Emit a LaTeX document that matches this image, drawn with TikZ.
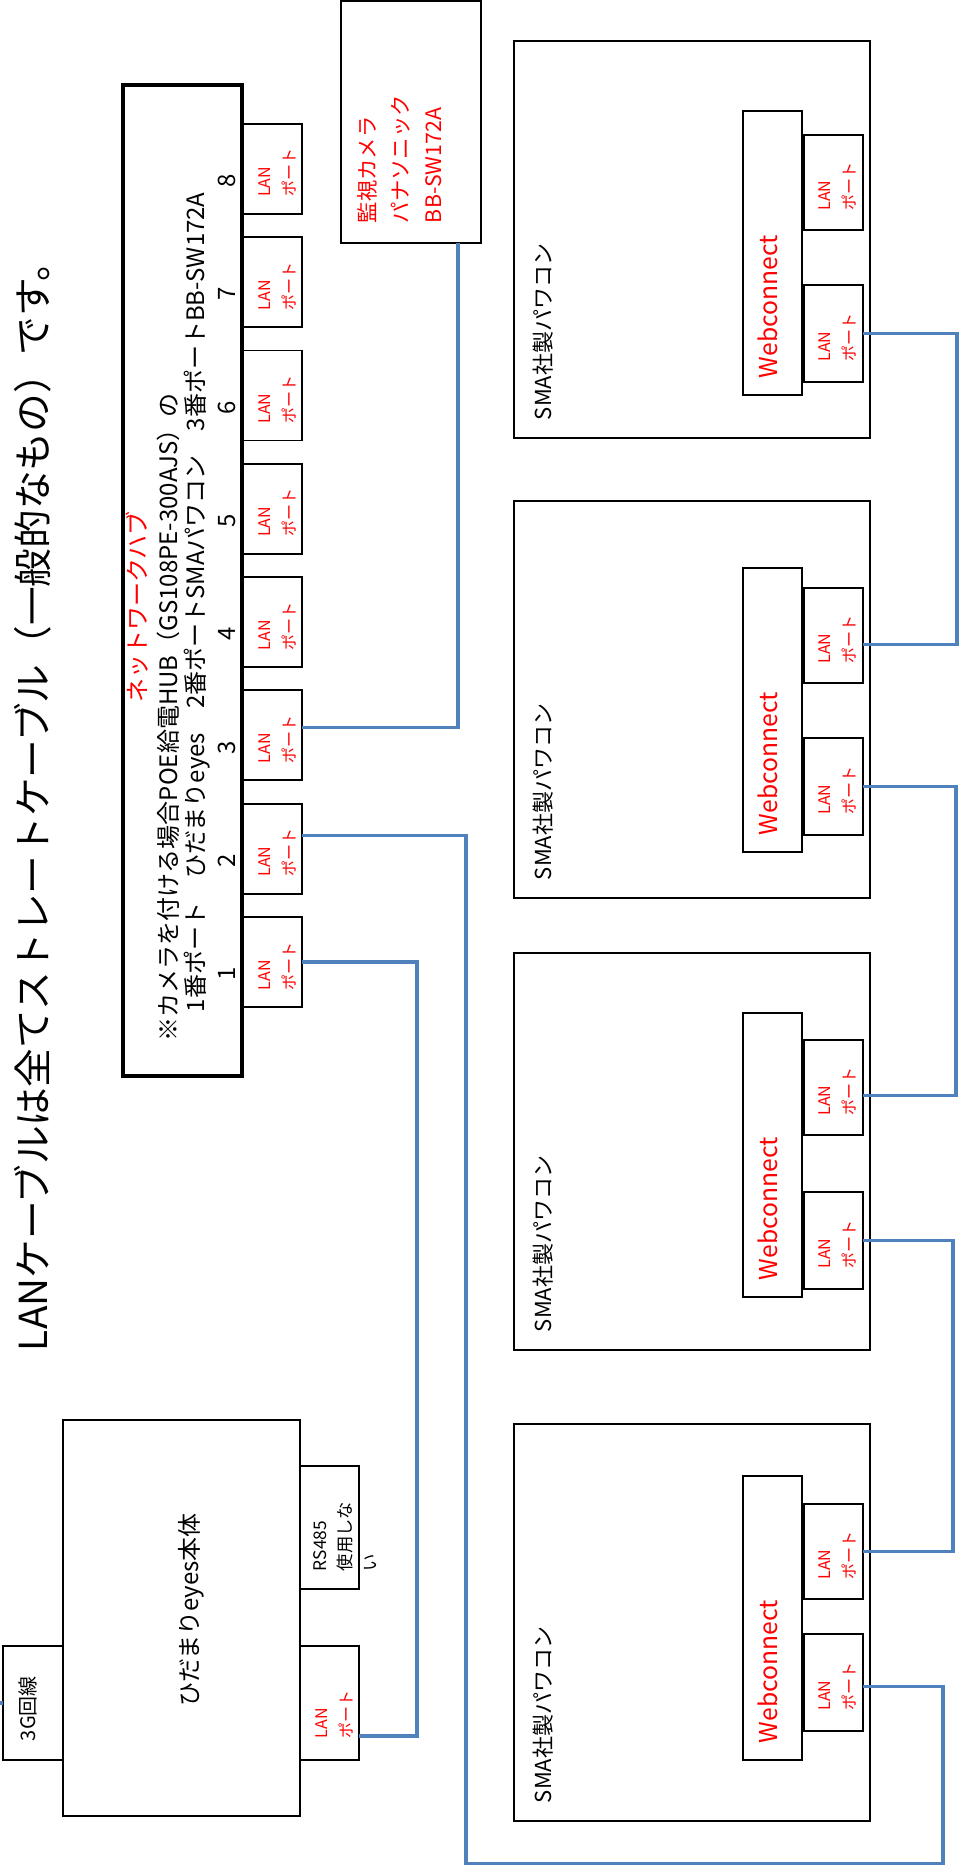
\documentclass[tikz,border=0pt]{standalone}
\usepackage{fontspec}
\setmainfont{Noto Sans CJK JP}
\usetikzlibrary{calc}
\definecolor{cableblue}{RGB}{79,129,189}
\def\u{0.75pt}
\tikzset{panel/.style={draw, line width=1.4pt, inner sep=0pt, outer sep=0pt, anchor=north west},
    hubpanel/.style={panel, line width=2.6pt},
    wh/.style 2 args={minimum width=#1*\u, minimum height=#2*\u},
    cable/.style={draw=cableblue, line width=2.6pt},
    vtext/.style={rotate=90, inner sep=0pt, outer sep=0pt, anchor=west},
    portlabel/.style={rotate=90, inner sep=0pt, align=left, text=red,
        font=\fontsize{12pt}{18.5pt}\selectfont}}

\begin{document}
\begin{tikzpicture}[x=0.75pt, y=-0.75pt]
        \useasboundingbox (0,0) rectangle (958,1875);

        \node[vtext, font=\fontsize{29pt}{34pt}\selectfont] (title) at (33,1351)
            {LANケーブルは全てストレートケーブル（一般的なもの）です。};

        % network hub
        \node[hubpanel, wh={119}{991}] (hub) at (123,85) {};
        \node[vtext, text=red, font=\fontsize{18pt}{22pt}\selectfont] (hub-name) at (137,702) {ネットワークハブ};
        \node[vtext, font=\fontsize{18pt}{22pt}\selectfont] (hub-note) at (168,1041)
            {※カメラを付ける場合POE給電HUB（GS108PE-300AJS）の};
        \node[vtext, font=\fontsize{18pt}{22pt}\selectfont] (hub-use) at (197,1012)
            {1番ポート　ひだまりeyes　2番ポートSMAパワコン　3番ポートBB-SW172A};
        \foreach \i in {1,...,8}
        {
            \pgfmathsetmacro\ptop{917-(\i-1)*113.3}
            \node[panel, wh={59}{90}] (hp\i) at (243,\ptop) {};
            \node[portlabel] (hp\i-l) at ($(hp\i.center)+(5,4)$) {LAN\\ポート};
            \node[rotate=90, inner sep=0pt, font=\fontsize{18pt}{22pt}\selectfont] (hp\i-n) at (227,\ptop+57) {\i};
        }

        % camera
        \node[panel, wh={140}{242}] (cam) at (341,1) {};
        \node[vtext, align=left, text=red, font=\fontsize{16pt}{24.75pt}\selectfont] (cam-l) at (400,223)
            {監視カメラ\\パナソニック\\BB-SW172A};

        % power conditioners
        \foreach \n/\ytop/\ywc/\ypa/\ypb in {1/41/111/135/285, 2/501/568/588/738,
                                            3/953/1013/1040/1192, 4/1424/1476/1504/1634}
        {
            \node[panel, wh={356}{397}] (sma\n) at (514,\ytop) {};
            \node[vtext, font=\fontsize{16.5pt}{20pt}\selectfont] (sma\n-l) at ($(sma\n.south west)+(29,-18)$) {SMA社製パワコン};
            \node[panel, wh={59}{284}] (web\n) at (743,\ywc) {};
            \node[vtext, text=red, font=\fontsize{18.5pt}{22pt}\selectfont] (web\n-l) at ($(web\n.south)+(-5,-17)$) {Webconnect};
            \node[panel, wh={59}{95}] (lan\n-a) at (804,\ypa) {};
            \node[portlabel] (lan\n-al) at ($(lan\n-a.center)+(4,4)$) {LAN\\ポート};
            \node[panel, wh={59}{97}] (lan\n-b) at (804,\ypb) {};
            \node[portlabel] (lan\n-bl) at ($(lan\n-b.center)+(4,4)$) {LAN\\ポート};
        }

        % hidamari eyes
        \node[panel, wh={237}{396}] (eyes) at (63,1420) {};
        \node[rotate=90, inner sep=0pt, font=\fontsize{18pt}{22pt}\selectfont] (eyes-l) at (191,1610) {ひだまりeyes本体};
        \node[panel, wh={59}{123}] (rs) at (300,1466) {};
        \node[vtext, align=left, font=\fontsize{13pt}{18.75pt}\selectfont] (rs-l) at (345,1571) {RS485\\使用しな\\い};
        \node[panel, wh={59}{114}] (elan) at (300,1646) {};
        \node[portlabel] (elan-l) at ($(elan.center)+(5,11)$) {LAN\\ポート};
        \node[panel, wh={60}{114}] (g3) at (3,1646) {};
        \node[vtext, font=\fontsize{15pt}{18pt}\selectfont] (g3-l) at (28,1741) {3G回線};

        % cables
        \draw[cable] ($(hp3.east)+(0,-8)$) -| ($(cam.south)+(47,0)$);
        \draw[cable] (hp1.east) -- ++(115,0) |- ($(elan.east)+(0,33)$);
        \draw[cable] (lan1-b.east) -- ++(94,0) |- ($(lan2-a.east)+(0,9)$);
        \draw[cable] (lan2-b.east) -- ++(93,0) |- ($(lan3-a.east)+(0,8)$);
        \draw[cable] (lan3-b.east) -- ++(90,0) |- (lan4-a.east);
        \draw[cable] ($(lan4-b.east)+(0,4)$) -- ++(80,0) -- ++(0,177) -| ($(hp2.east)+(164,-13)$) -- ($(hp2.east)+(0,-13)$);
        \draw[cable] (g3.west) -- ++(-3,0);
    \end{tikzpicture}
\end{document}
